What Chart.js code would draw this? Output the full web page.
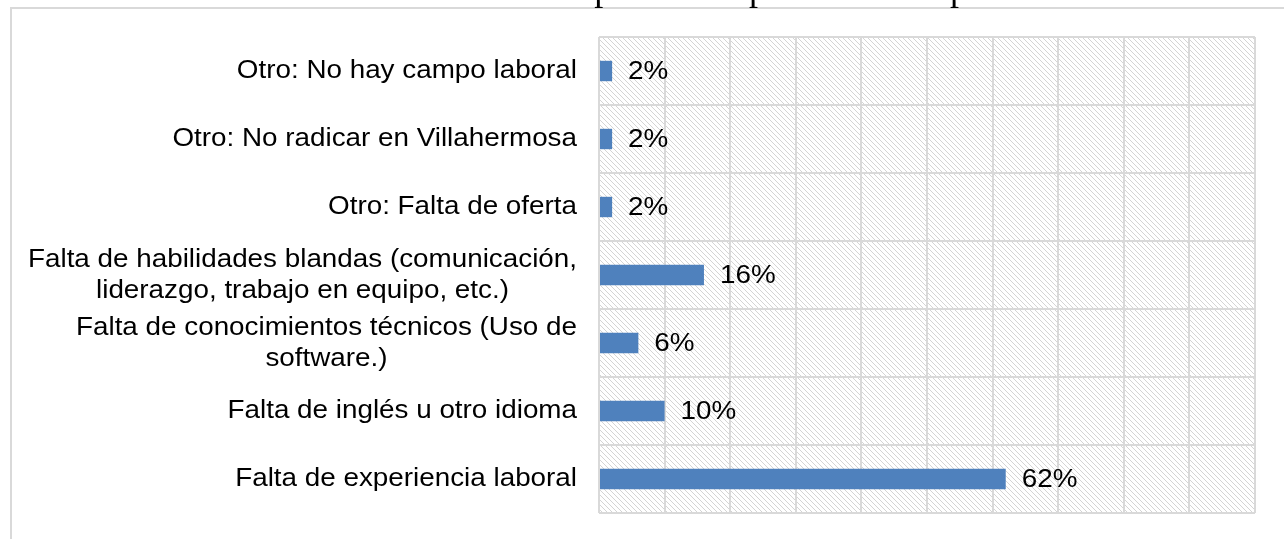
<!DOCTYPE html>
<html>
<head>
<meta charset="utf-8">
<script src="https://cdn.jsdelivr.net/npm/chart.js@4/dist/chart.umd.min.js"></script>
<style>
  html, body { margin: 0; padding: 0; background: #fff; }
  #wrap { position: relative; width: 1284px; height: 539px; overflow: hidden; }
</style>
</head>
<body>
<div id="wrap"><canvas id="chart" width="1284" height="539"></canvas></div>
<script>
// data
const chartTitle = "Gráfica 11. Resultados para conceptos de un empleo";
const categories = [
  ["Otro: No hay campo laboral"],
  ["Otro: No radicar en Villahermosa"],
  ["Otro: Falta de oferta"],
  ["Falta de habilidades blandas (comunicación,", "liderazgo, trabajo en equipo, etc.)"],
  ["Falta de conocimientos técnicos (Uso de", "software.)"],
  ["Falta de inglés u otro idioma"],
  ["Falta de experiencia laboral"]
];
const percentages = [2, 2, 2, 16, 6, 10, 62];
const xMin = 0, xMax = 100, xStep = 10;

const GRID = "#d9d9d9";
const BAR = "#4f81bd";
const FONT = "'Liberation Sans', Arial, sans-serif";
const FONT_SIZE = 26;
const STRETCH = 1.07; // the source text is drawn a little wide

// diagonal hatch used as plot background
function makeHatch() {
  const t = document.createElement("canvas");
  t.width = 5; t.height = 5;
  const g = t.getContext("2d");
  g.fillStyle = "#fff";
  g.fillRect(0, 0, 5, 5);
  g.strokeStyle = "#d4d4d4";
  g.lineWidth = 1;
  g.beginPath();
  g.moveTo(-1, -1); g.lineTo(6, 6);
  g.moveTo(-1, 4); g.lineTo(1, 6);
  g.moveTo(4, -1); g.lineTo(6, 1);
  g.stroke();
  return g.createPattern(t, "repeat");
}

// text drawn with a slight horizontal stretch; x is the left edge
function wideText(ctx, s, x, y) {
  ctx.save();
  ctx.translate(x, y);
  ctx.scale(STRETCH, 1);
  ctx.fillText(s, 0, 0);
  ctx.restore();
}

const framePlugin = {
  id: "frame",
  beforeDraw(chart) {
    const ctx = chart.ctx;
    const a = chart.chartArea;
    ctx.save();
    // outer chart frame (extends past the window)
    ctx.strokeStyle = GRID;
    ctx.lineWidth = 2;
    ctx.beginPath();
    ctx.moveTo(11, chart.height + 5);
    ctx.lineTo(11, 8);
    ctx.lineTo(chart.width + 5, 8);
    ctx.stroke();
    // title, mostly cut off at the top
    ctx.fillStyle = "#000";
    ctx.font = "36px 'Liberation Serif', 'Times New Roman', serif";
    ctx.textAlign = "right";
    ctx.textBaseline = "alphabetic";
    ctx.fillText(chartTitle, 1012, 0);
    // hatched plot area
    ctx.fillStyle = makeHatch();
    ctx.fillRect(a.left, a.top, a.right - a.left, a.bottom - a.top);
    ctx.restore();
  }
};

const labelPlugin = {
  id: "labels",
  afterDraw(chart) {
    const ctx = chart.ctx;
    const yScale = chart.scales.y;
    const lineH = 31;
    ctx.save();
    ctx.fillStyle = "#000";
    ctx.font = FONT_SIZE + "px " + FONT;
    ctx.textBaseline = "middle";
    ctx.textAlign = "left";
    const rightEdge = chart.chartArea.left - 22;
    categories.forEach((lines, i) => {
      const y = yScale.getPixelForTick(i);
      const widths = lines.map(s => ctx.measureText(s).width * STRETCH);
      const w = Math.max(...widths);
      const cx = rightEdge - w / 2;
      const y0 = y - (lines.length - 1) * lineH / 2;
      lines.forEach((s, k) => wideText(ctx, s, cx - widths[k] / 2, y0 + k * lineH));
    });
    // value labels
    const meta = chart.getDatasetMeta(0);
    meta.data.forEach((bar, i) => {
      wideText(ctx, percentages[i] + "%", bar.x + 16, bar.y + 1);
    });
    ctx.restore();
  }
};

new Chart(document.getElementById("chart"), {
  type: "bar",
  data: {
    labels: categories,
    datasets: [{
      data: percentages,
      backgroundColor: BAR,
      borderWidth: 0,
      barPercentage: 0.6,
      categoryPercentage: 0.5
    }]
  },
  options: {
    indexAxis: "y",
    responsive: false,
    animation: false,
    devicePixelRatio: 1,
    layout: { padding: { left: 599, top: 37, right: 29, bottom: 26 } },
    plugins: {
      legend: { display: false },
      tooltip: { enabled: false },
      title: { display: false }
    },
    scales: {
      x: {
        min: xMin, max: xMax,
        ticks: { display: false, stepSize: xStep },
        grid: { color: GRID, lineWidth: 2, drawTicks: false },
        border: { display: false }
      },
      y: {
        ticks: { display: false },
        grid: { color: GRID, lineWidth: 2, drawTicks: false, offset: true },
        border: { display: false }
      }
    }
  },
  plugins: [framePlugin, labelPlugin]
});
</script>
</body>
</html>
